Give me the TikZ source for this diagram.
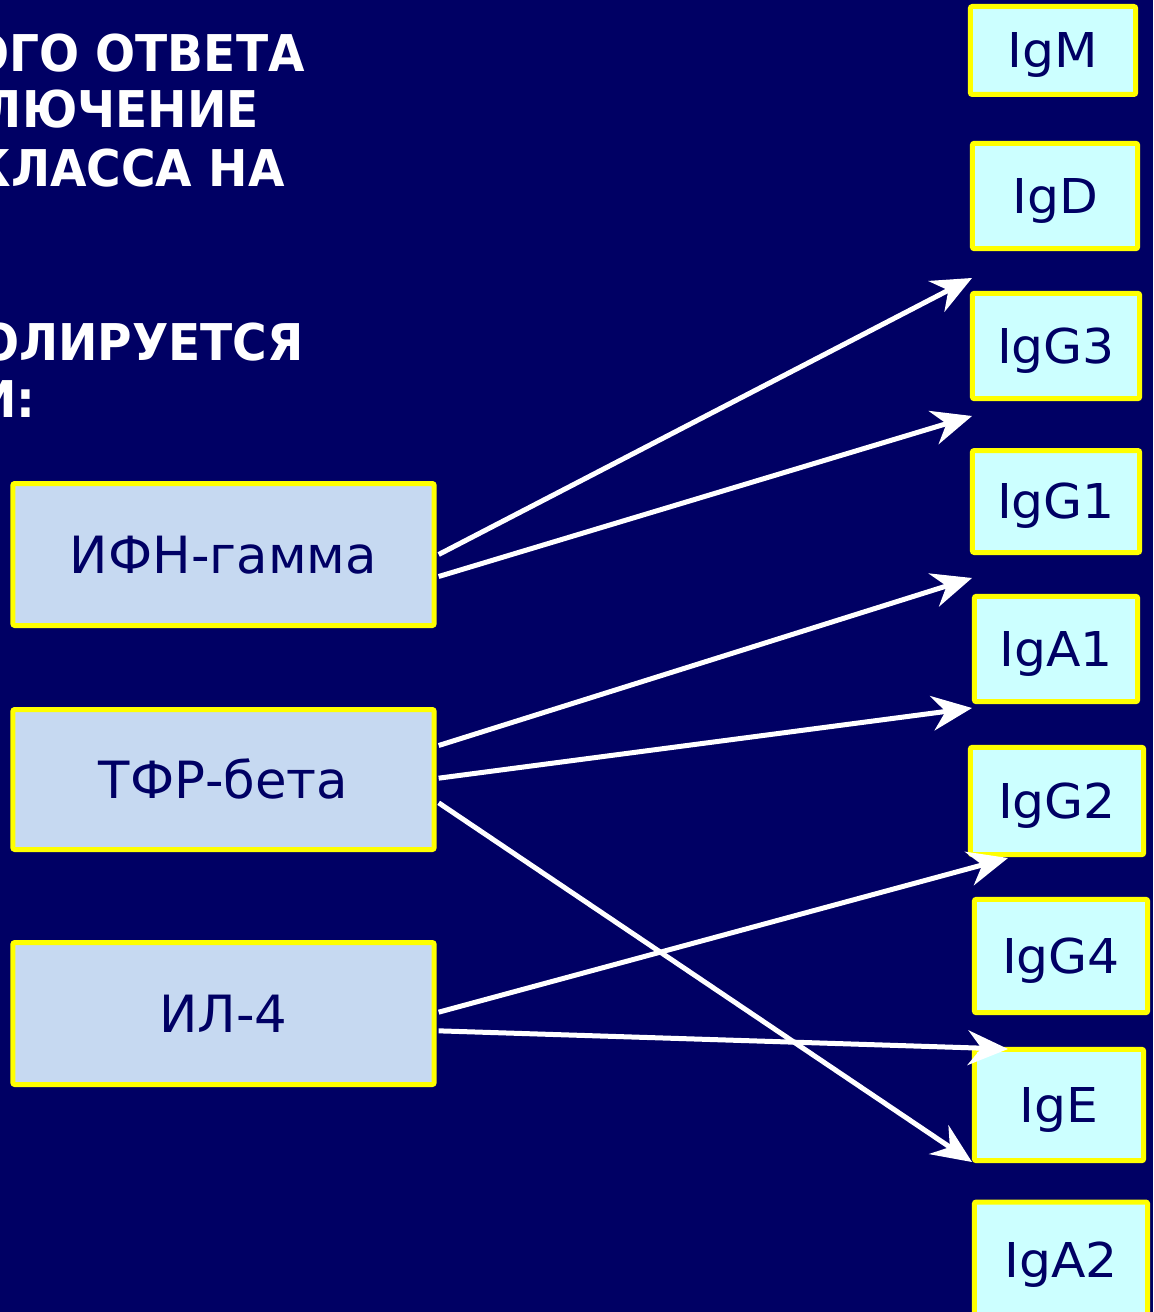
\documentclass[tikz,border=0pt]{standalone}
\usepackage{fontspec}
\setmainfont{DejaVu Sans}
\newfontfamily\headfont[FakeStretch=0.93]{DejaVu Sans Bold}
\newfontfamily\labfont[FakeStretch=1.05]{DejaVu Sans}
\usetikzlibrary{arrows.meta,calc}
\definecolor{navy}{RGB}{0,0,100}
\definecolor{igfill}{RGB}{204,255,255}
\definecolor{cyfill}{RGB}{198,217,241}
\definecolor{bord}{RGB}{255,255,0}
\begin{document}
\begin{tikzpicture}[x=0.75pt,y=-0.75pt,
  igbox/.style={draw=bord,fill=igfill,line width=3.75pt,rounded corners=1.5pt,
    text=navy,font=\labfont\fontsize{36}{36}\selectfont,text height=26pt,text depth=0pt,inner sep=0pt},
  cybox/.style={draw=bord,fill=cyfill,line width=3.75pt,rounded corners=1.5pt,
    text=navy,font=\fontsize{38.5}{38.5}\selectfont,text height=28pt,text depth=0pt,inner sep=0pt,
    minimum width=316pt},
  head/.style={text=white,font=\headfont\fontsize{38}{38}\selectfont,anchor=base east,inner sep=0pt},
  conn/.style={draw=white,line width=3.75pt,-{Stealth[length=30pt,width=26pt,inset=10pt]}}]
\useasboundingbox (0,0) rectangle (1153,1312);
\clip (0,0) rectangle (1153,1312);
\fill[navy] (0,0) rectangle (1153,1312);

% heading (cut off on the left)
\node[head] (h1) at (305,72) {ОГО ОТВЕТА};
\node[head] (h2) at (259,128) {ЛЮЧЕНИЕ};
\node[head] (h3) at (285,187) {КЛАССА НА};
\node[head] (h4) at (304,360) {ОЛИРУЕТСЯ};
\node[head] (h5) at (36,417) {И:};

% right boxes
\node[igbox,minimum width=124pt,minimum height=66pt] (igm) at (1053,50.5) {IgM};
\node[igbox,minimum width=124pt,minimum height=79pt] (igd) at (1055,196) {IgD};
\node[igbox,minimum width=125.5pt,minimum height=79pt] (igg3) at (1056,346) {IgG3};
\node[igbox,minimum width=125.5pt,minimum height=76.5pt] (igg1) at (1056,501.5) {IgG1};
\node[igbox,minimum width=122.5pt,minimum height=79pt] (iga1) at (1056,649) {IgA1};
\node[igbox,minimum width=130pt,minimum height=80.5pt] (igg2) at (1057,801) {IgG2};
\node[igbox,minimum width=130pt,minimum height=85pt] (igg4) at (1061,956) {IgG4};
\node[igbox,minimum width=127pt,minimum height=83.5pt] (ige) at (1059,1105) {IgE};
\node[igbox,minimum width=130pt,minimum height=87pt] (iga2) at (1061,1260) {IgA2};

% left boxes
\node[cybox,minimum height=106.5pt] (ifn) at (223.5,554.5) {ИФН-гамма};
\node[cybox,minimum height=105pt] (tfr) at (223.5,779.5) {ТФР-бета};
\node[cybox,minimum height=106.5pt] (il) at (223.5,1013.5) {ИЛ-4};

% arrow tips
\coordinate (t1) at (972,278);
\coordinate (t2) at (972,416);
\coordinate (t3) at (972,578);
\coordinate (t4) at (972,708);
\coordinate (t5) at (972,1162);
\coordinate (t6) at (1008,858);
\coordinate (t7) at (1008,1049);

\draw[conn] ([xshift=1.5pt,yshift=0pt]ifn.east) -- (t1);
\draw[conn] ([xshift=1.5pt,yshift=-16.5pt]ifn.east) -- (t2);
\draw[conn] ([xshift=1.5pt,yshift=25.5pt]tfr.east) -- (t3);
\draw[conn] ([xshift=1.5pt,yshift=1pt]tfr.east) -- (t4);
\draw[conn] ([xshift=1.5pt,yshift=-17.5pt]tfr.east) -- (t5);
\draw[conn] ([xshift=1.5pt,yshift=1pt]il.east) -- (t6);
\draw[conn] ([xshift=1.5pt,yshift=-13pt]il.east) -- (t7);
\end{tikzpicture}
\end{document}
